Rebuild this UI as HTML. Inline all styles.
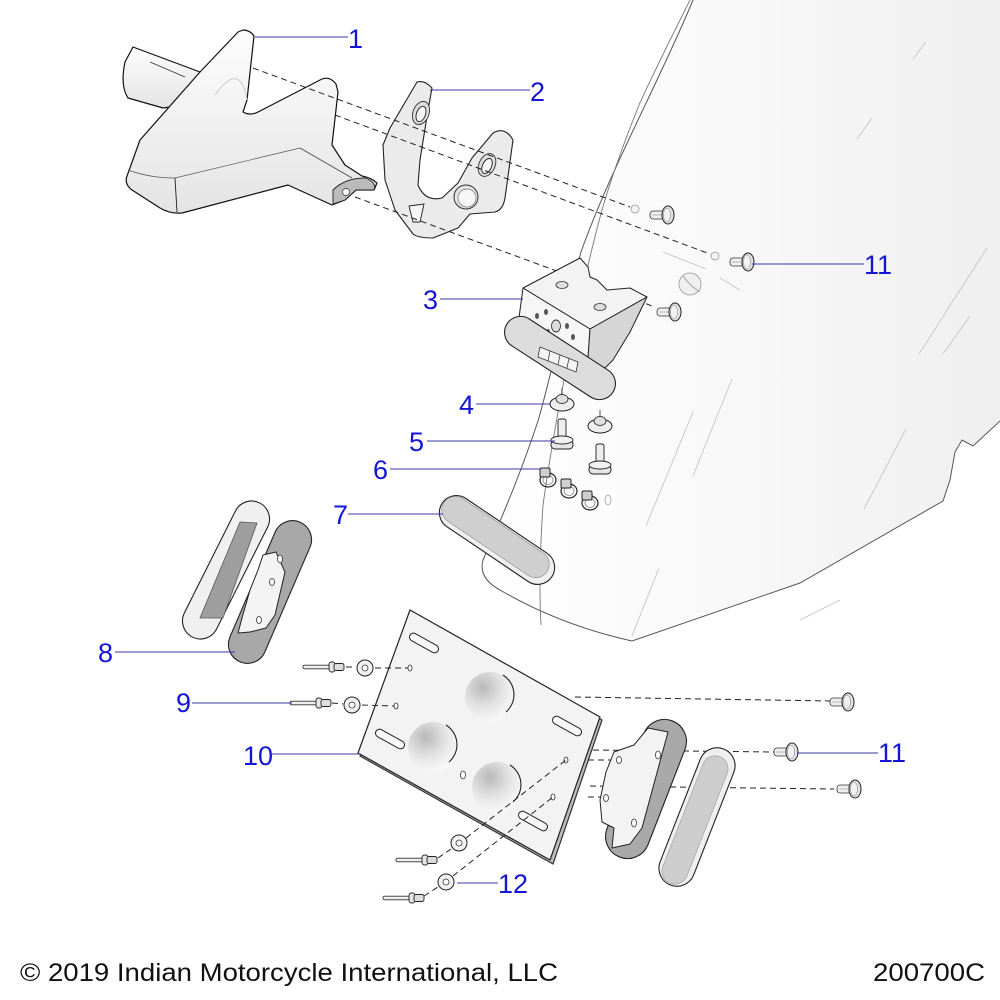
<!DOCTYPE html>
<html><head><meta charset="utf-8"><style>html,body{margin:0;padding:0;background:#fff}svg{display:block}</style></head>
<body>
<svg width="1000" height="1000" viewBox="0 0 1000 1000" xmlns="http://www.w3.org/2000/svg">
<defs>
<linearGradient id="g1" x1="0" y1="0" x2="0" y2="1"><stop offset="0" stop-color="#fdfdfd"/><stop offset="1" stop-color="#e4e4e4"/></linearGradient>
<linearGradient id="fg" x1="0" y1="0" x2="1" y2="0"><stop offset="0" stop-color="#ffffff"/><stop offset="0.5" stop-color="#f8f8f8"/><stop offset="1" stop-color="#efefef"/></linearGradient>
<radialGradient id="rec" cx="0.35" cy="0.3" r="0.7"><stop offset="0" stop-color="#b8b8b8"/><stop offset="0.55" stop-color="#e2e2e2"/><stop offset="1" stop-color="#f8f8f8"/></radialGradient>
<g id="pin">
<rect x="-20" y="-4" width="16" height="8" rx="3" fill="#eee" stroke="#333" stroke-width="0.8"/>
<line x1="-18" y1="0" x2="-8" y2="0" stroke="#999" stroke-width="0.6"/>
<ellipse cx="-2" cy="0" rx="6" ry="9" fill="#e2e2e2" stroke="#222" stroke-width="1"/>
<ellipse cx="-3" cy="0" rx="3.5" ry="7" fill="#f2f2f2" stroke="#777" stroke-width="0.5"/>
</g>
<g id="washer">
<circle r="8" fill="#f2f2f2" stroke="#222" stroke-width="1"/>
<circle r="3" fill="#fff" stroke="#333" stroke-width="0.8"/>
</g>
<g id="rivet">
<rect x="0" y="-1.8" width="28" height="3.6" rx="1.5" fill="#eee" stroke="#333" stroke-width="0.8"/>
<rect x="26" y="-5" width="6" height="10" rx="2.5" fill="#e6e6e6" stroke="#222" stroke-width="0.9"/>
<rect x="31" y="-3.5" width="10" height="7" rx="2" fill="#ddd" stroke="#222" stroke-width="0.9"/>
</g>
<g id="clip">
<ellipse cx="2" cy="6" rx="8" ry="7" fill="none" stroke="#222" stroke-width="1.2"/>
<ellipse cx="2" cy="6" rx="5" ry="4.5" fill="none" stroke="#888" stroke-width="0.8"/>
<rect x="-6" y="-6" width="10" height="9" rx="1.5" fill="#cfcfcf" stroke="#222" stroke-width="1"/>
</g>
</defs>

<!-- Fender -->
<path d="M693,0 L1000,0 L1000,421 L973,446 L962,440 L955,452 L950,480 L943,501 L800,583 L632,641 Q560,625 500,590 Q478,578 483,560 C510,500 525,460 538,421 C550,380 565,310 581,252 C610,170 660,80 693,0 Z" fill="url(#fg)" stroke="none"/>
<path d="M693,0 C660,80 610,170 581,252 C565,310 550,380 538,421 C525,460 510,500 483,560 Q478,578 500,590 Q560,625 632,641 L800,583 L943,501 L950,480 L955,452 L962,440 L973,446 L1000,421" fill="none" stroke="#555" stroke-width="1"/>
<path d="M690,0 C680,20 650,80 639,105 C625,140 612,175 602,210 C580,290 555,420 543,505 C540,550 539,590 541,625" fill="none" stroke="#777" stroke-width="0.9"/>
<g stroke="#c4c4c4" stroke-width="0.9" fill="none">
<line x1="926" y1="42" x2="913" y2="59"/>
<line x1="872" y1="118" x2="857" y2="139"/>
<line x1="987" y1="248" x2="919" y2="354"/>
<line x1="970" y1="316" x2="943" y2="354"/>
<line x1="732" y1="379" x2="693" y2="476"/>
<line x1="906" y1="429" x2="864" y2="509"/>
<line x1="693" y1="412" x2="646" y2="526"/>
<line x1="659" y1="568" x2="632" y2="636"/>
<line x1="663" y1="252" x2="706" y2="269"/>
<line x1="720" y1="278" x2="740" y2="290"/>
<line x1="840" y1="600" x2="800" y2="620"/>
</g>
<circle cx="690" cy="284" r="11" fill="#efefef" stroke="#aaa" stroke-width="1"/>
<path d="M683,276 Q690,286 700,292" fill="none" stroke="#999" stroke-width="0.8"/>
<circle cx="635" cy="209" r="4" fill="#f4f4f4" stroke="#999" stroke-width="0.8"/>
<circle cx="715" cy="256" r="4" fill="#f4f4f4" stroke="#999" stroke-width="0.8"/>

<!-- Part 1 -->
<path d="M133,47 L200,72 L192,104 L163,108 L128,98 Q120,86 125,62 Z" fill="url(#g1)" stroke="#111" stroke-width="1.2" stroke-linejoin="round"/>
<line x1="150" y1="62" x2="185" y2="77" stroke="#333" stroke-width="0.8"/>
<path d="M243,30 Q250,30 254,36 L247,100 L243,112 Q250,116 258,112 L322,79 Q330,76 336,84 L338,92 L332,145 L345,165 L362,176 Q372,178 377,183 L374,190 L356,190 L345,200 L332,205 L288,185 L182,213 Q170,214 160,208 L132,190 Q124,184 127,176 L140,140 L200,72 L238,32 Z" fill="url(#g1)" stroke="#111" stroke-width="1.2" stroke-linejoin="round"/>
<path d="M333,190 Q345,178 365,178 Q377,182 374,190 L356,190 L345,200 L333,204 Z" fill="#bbb" stroke="#222" stroke-width="0.9"/>
<circle cx="346" cy="192" r="3.5" fill="#fff" stroke="#333" stroke-width="0.7"/>
<path d="M128,170 Q150,178 175,178 L300,148" fill="none" stroke="#555" stroke-width="0.7"/>
<line x1="175" y1="178" x2="177" y2="212" stroke="#222" stroke-width="0.9"/>
<line x1="300" y1="148" x2="352" y2="178" stroke="#444" stroke-width="0.8"/>
<path d="M247,100 Q240,60 215,95" fill="none" stroke="#ccc" stroke-width="1"/>

<!-- Part 2 -->
<path d="M417,82 Q425,80 432,88 L428,110 L420,160 L418,185 Q425,202 442,198 L458,183 L472,158 L493,133 Q505,126 513,140 L505,198 Q503,210 495,212 L470,214 L458,228 L433,238 Q418,238 413,234 L395,210 L385,180 L383,145 L390,128 Z" fill="#ebebeb" stroke="#222" stroke-width="1.1" stroke-linejoin="round"/>
<ellipse cx="421" cy="113" rx="8" ry="12" transform="rotate(20 421 113)" fill="#dcdcdc" stroke="#333" stroke-width="0.9"/>
<ellipse cx="421" cy="114" rx="4.5" ry="8" transform="rotate(20 421 114)" fill="#f5f5f5" stroke="#222" stroke-width="0.9"/>
<ellipse cx="487" cy="165" rx="8" ry="12" transform="rotate(25 487 165)" fill="#dcdcdc" stroke="#333" stroke-width="0.9"/>
<ellipse cx="487" cy="166" rx="4.5" ry="8" transform="rotate(25 487 166)" fill="#f5f5f5" stroke="#222" stroke-width="0.9"/>
<circle cx="466" cy="197" r="12" fill="#e4e4e4" stroke="#333" stroke-width="1"/>
<circle cx="467" cy="198" r="9" fill="#f6f6f6" stroke="#777" stroke-width="0.7"/>
<path d="M409,206 L424,204 L420,222 L413,222 Z" fill="#f5f5f5" stroke="#222" stroke-width="0.9"/>

<!-- dashed lines top -->
<g stroke="#222" stroke-width="1" stroke-dasharray="6,4" fill="none">
<line x1="253" y1="68" x2="630" y2="207"/>
<line x1="335" y1="115" x2="710" y2="254"/>
<line x1="355" y1="197" x2="655" y2="307"/>
</g>
<use href="#pin" x="670" y="215"/>
<use href="#pin" x="750" y="262"/>
<use href="#pin" x="677" y="312"/>

<!-- Part 3 -->
<polygon points="523,288 580,258 588,267 590,277 597,280 607,290 630,288 647,297 590,329" fill="#f3f3f3" stroke="#222" stroke-width="1" stroke-linejoin="round"/>
<polygon points="523,288 590,329 588,358 518,325" fill="#f6f6f6" stroke="#222" stroke-width="1" stroke-linejoin="round"/>
<polygon points="590,329 647,297 630,332 613,360 600,373 588,358" fill="#d6d6d6" stroke="#222" stroke-width="1" stroke-linejoin="round"/>
<ellipse cx="562" cy="285" rx="6" ry="3.5" fill="#ddd" stroke="#333" stroke-width="0.8"/>
<ellipse cx="600" cy="307" rx="6" ry="3.5" fill="#ddd" stroke="#333" stroke-width="0.8"/>
<ellipse cx="537" cy="316" rx="2" ry="3" fill="#555"/>
<ellipse cx="546" cy="312" rx="2" ry="3" fill="#555"/>
<ellipse cx="556" cy="326" rx="4.5" ry="6" fill="#ddd" stroke="#333" stroke-width="0.9"/>
<ellipse cx="567" cy="326" rx="2" ry="3" fill="#555"/>
<ellipse cx="573" cy="337" rx="2" ry="3" fill="#555"/>
<ellipse cx="548" cy="332" rx="2" ry="3" fill="#555"/>
<rect x="-63" y="-16" width="126" height="32" rx="16" transform="translate(560,358) rotate(33)" fill="#dcdcdc" stroke="#222" stroke-width="1.1"/>
<polygon points="540,347 578,362 576,372 538,357" fill="#f4f4f4" stroke="#333" stroke-width="0.8"/>
<g stroke="#333" stroke-width="0.7"><line x1="550" y1="351" x2="548" y2="361"/><line x1="560" y1="355" x2="558" y2="365"/><line x1="569" y1="358" x2="567" y2="368"/></g>

<!-- Part 4 -->
<line x1="562" y1="388" x2="562" y2="396" stroke="#333" stroke-width="0.8"/>
<ellipse cx="562" cy="404" rx="12" ry="7" fill="#eee" stroke="#222" stroke-width="1"/>
<ellipse cx="562" cy="399" rx="6" ry="4.5" fill="#e0e0e0" stroke="#333" stroke-width="0.9"/>
<line x1="600" y1="410" x2="600" y2="418" stroke="#333" stroke-width="0.8"/>
<ellipse cx="600" cy="426" rx="12" ry="7" fill="#eee" stroke="#222" stroke-width="1"/>
<ellipse cx="600" cy="421" rx="6" ry="4.5" fill="#e0e0e0" stroke="#333" stroke-width="0.9"/>
<!-- Part 5 -->
<rect x="558" y="419" width="8" height="24" rx="2" fill="#eee" stroke="#222" stroke-width="0.9"/>
<rect x="551" y="440" width="22" height="9" rx="4" fill="#e6e6e6" stroke="#222" stroke-width="1"/>
<ellipse cx="562" cy="440" rx="11" ry="4" fill="#f2f2f2" stroke="#222" stroke-width="0.9"/>
<rect x="596" y="444" width="8" height="24" rx="2" fill="#eee" stroke="#222" stroke-width="0.9"/>
<rect x="589" y="465" width="22" height="9" rx="4" fill="#e6e6e6" stroke="#222" stroke-width="1"/>
<ellipse cx="600" cy="465" rx="11" ry="4" fill="#f2f2f2" stroke="#222" stroke-width="0.9"/>
<!-- Part 6 -->
<use href="#clip" x="546" y="474"/>
<use href="#clip" x="567" y="485"/>
<use href="#clip" x="588" y="497"/>
<ellipse cx="608" cy="500" rx="3" ry="5" fill="none" stroke="#999" stroke-width="0.7"/>

<!-- Part 7 -->
<rect x="-66" y="-17" width="132" height="34" rx="17" transform="translate(497,540) rotate(34)" fill="#efefef" stroke="#222" stroke-width="1.1"/>
<rect x="-63" y="-14" width="124" height="27" rx="13.5" transform="translate(496,538) rotate(34)" fill="#cfcfcf" stroke="#888" stroke-width="0.6"/>

<!-- Part 8 -->
<rect x="-75" y="-18" width="150" height="36" rx="18" transform="translate(226,570) rotate(-63.4)" fill="#f0f0f0" stroke="#222" stroke-width="1.1"/>
<polygon points="240,522 257,523 223,618 200,618" fill="#9e9e9e" stroke="#555" stroke-width="0.8"/>
<rect x="-76" y="-19" width="152" height="38" rx="19" transform="translate(270,592) rotate(-66.7)" fill="#a8a8a8" stroke="#222" stroke-width="1.1"/>
<polygon points="263,555 276,552 285,572 275,615 266,628 250,632 238,633 242,618 250,590 258,570" fill="#f4f4f4" stroke="#222" stroke-width="1" stroke-linejoin="round"/>
<ellipse cx="280" cy="559" rx="2.5" ry="4" fill="#fff" stroke="#333" stroke-width="0.8"/>
<ellipse cx="272" cy="582" rx="2.5" ry="3.5" fill="#fff" stroke="#333" stroke-width="0.8"/>
<ellipse cx="259" cy="620" rx="2.5" ry="3.5" fill="#fff" stroke="#333" stroke-width="0.8"/>

<!-- Part 10 plate -->
<polygon points="412,613 602,720 553,864 360,756" fill="#bdbdbd" stroke="#333" stroke-width="1.2" stroke-linejoin="round"/>
<polygon points="410,610 600,717 550,860 358,753" fill="#f3f3f3" stroke="#222" stroke-width="1.2" stroke-linejoin="round"/>
<g fill="#f8f8f8" stroke="#222" stroke-width="1">
<rect x="-16" y="-4" width="32" height="8" rx="4" transform="translate(424,643) rotate(29)"/>
<rect x="-16" y="-4" width="32" height="8" rx="4" transform="translate(390,739) rotate(29)"/>
<rect x="-16" y="-4" width="32" height="8" rx="4" transform="translate(567,726) rotate(29)"/>
<rect x="-16" y="-4" width="32" height="8" rx="4" transform="translate(533,821) rotate(29)"/>
</g>
<circle cx="490" cy="697" r="25" fill="url(#rec)"/>
<path d="M503,675 A23,23 0 0,1 506,712" fill="none" stroke="#222" stroke-width="1.1"/>
<circle cx="433" cy="747" r="25" fill="url(#rec)"/>
<path d="M446,725 A23,23 0 0,1 449,762" fill="none" stroke="#222" stroke-width="1.1"/>
<circle cx="497" cy="787" r="25" fill="url(#rec)"/>
<path d="M510,765 A23,23 0 0,1 513,802" fill="none" stroke="#222" stroke-width="1.1"/>
<ellipse cx="463" cy="775" rx="2.5" ry="4" fill="#fff" stroke="#333" stroke-width="0.8"/>
<ellipse cx="410" cy="668" rx="2" ry="3" fill="#fff" stroke="#333" stroke-width="0.8"/>
<ellipse cx="396" cy="706" rx="2" ry="3" fill="#fff" stroke="#333" stroke-width="0.8"/>
<ellipse cx="566" cy="760" rx="2" ry="3" fill="#fff" stroke="#333" stroke-width="0.8"/>
<ellipse cx="553" cy="797" rx="2" ry="3" fill="#fff" stroke="#333" stroke-width="0.8"/>

<!-- Part 9 -->
<use href="#rivet" x="303" y="667"/>
<use href="#rivet" x="290" y="703"/>
<use href="#washer" x="365" y="668"/>
<use href="#washer" x="352" y="705"/>
<!-- Part 12 -->
<use href="#rivet" x="396" y="860"/>
<use href="#rivet" x="383" y="898"/>
<use href="#washer" x="459" y="843"/>
<use href="#washer" x="446" y="882"/>

<!-- dashed lines bottom -->
<g stroke="#222" stroke-width="1" stroke-dasharray="6,4" fill="none">
<line x1="346" y1="667" x2="356" y2="667"/>
<line x1="375" y1="668" x2="408" y2="668"/>
<line x1="332" y1="703" x2="343" y2="704"/>
<line x1="362" y1="705" x2="394" y2="706"/>
<line x1="575" y1="697" x2="832" y2="701"/>
<line x1="593" y1="750" x2="774" y2="752"/>
<line x1="588" y1="760" x2="618" y2="760"/>
<line x1="590" y1="786" x2="834" y2="789"/>
<line x1="588" y1="797" x2="610" y2="797"/>
<line x1="438" y1="858" x2="451" y2="849"/>
<line x1="466" y1="838" x2="566" y2="760"/>
<line x1="424" y1="896" x2="438" y2="887"/>
<line x1="453" y1="876" x2="553" y2="797"/>
</g>

<!-- Part 11 bottom bracket & pad -->
<rect x="-73" y="-22" width="146" height="44" rx="22" transform="translate(646,789) rotate(-68.8)" fill="#a9a9a9" stroke="#222" stroke-width="1.1"/>
<polygon points="614,752 634,745 648,728 668,732 642,828 630,844 612,848 614,828 602,822 600,800 606,772" fill="#f3f3f3" stroke="#222" stroke-width="1" stroke-linejoin="round"/>
<ellipse cx="619" cy="760" rx="2.5" ry="3.5" fill="#fff" stroke="#333" stroke-width="0.8"/>
<ellipse cx="606" cy="798" rx="2.5" ry="3.5" fill="#fff" stroke="#333" stroke-width="0.8"/>
<ellipse cx="658" cy="755" rx="2.5" ry="4" fill="#fff" stroke="#333" stroke-width="0.8"/>
<ellipse cx="634" cy="823" rx="2.5" ry="4" fill="#fff" stroke="#333" stroke-width="0.8"/>
<rect x="-73" y="-18" width="146" height="36" rx="18" transform="translate(697,817) rotate(-68.6)" fill="#efefef" stroke="#222" stroke-width="1.1"/>
<rect x="-68" y="-13" width="136" height="26" rx="13" transform="translate(695,820) rotate(-68.6)" fill="#cdcdcd" stroke="#999" stroke-width="0.6"/>
<use href="#pin" x="850" y="702"/>
<use href="#pin" x="794" y="752"/>
<use href="#pin" x="857" y="789"/>

<!-- leaders -->
<g stroke="#3a3aa8" stroke-width="1.1">
<line x1="255" y1="37" x2="348" y2="37"/>
<line x1="430" y1="90" x2="530" y2="90"/>
<line x1="440" y1="299" x2="523" y2="299"/>
<line x1="476" y1="404" x2="550" y2="404"/>
<line x1="427" y1="441" x2="555" y2="441"/>
<line x1="390" y1="469" x2="540" y2="469"/>
<line x1="348" y1="514" x2="443" y2="514"/>
<line x1="115" y1="652" x2="235" y2="652"/>
<line x1="192" y1="703" x2="292" y2="703"/>
<line x1="272" y1="754" x2="360" y2="754"/>
<line x1="752" y1="264" x2="864" y2="264"/>
<line x1="797" y1="753" x2="878" y2="753"/>
<line x1="457" y1="883" x2="498" y2="883"/>
</g>
<g fill="#1414d8" font-family="Liberation Sans, Arial, sans-serif" font-size="27">
<text x="348" y="48">1</text>
<text x="530" y="101">2</text>
<text x="423" y="309">3</text>
<text x="459" y="414">4</text>
<text x="409" y="451">5</text>
<text x="373" y="479">6</text>
<text x="333" y="524">7</text>
<text x="98" y="662">8</text>
<text x="176" y="712">9</text>
<text x="243" y="765">10</text>
<text x="864" y="274">11</text>
<text x="878" y="762">11</text>
<text x="498" y="893">12</text>
</g>
<g fill="#111" font-family="Liberation Sans, Arial, sans-serif" font-size="25">
<text x="20" y="981" textLength="538" lengthAdjust="spacingAndGlyphs">© 2019 Indian Motorcycle International, LLC</text>
<text x="873" y="981" textLength="112" lengthAdjust="spacingAndGlyphs">200700C</text>
</g>
</svg>
</body></html>
